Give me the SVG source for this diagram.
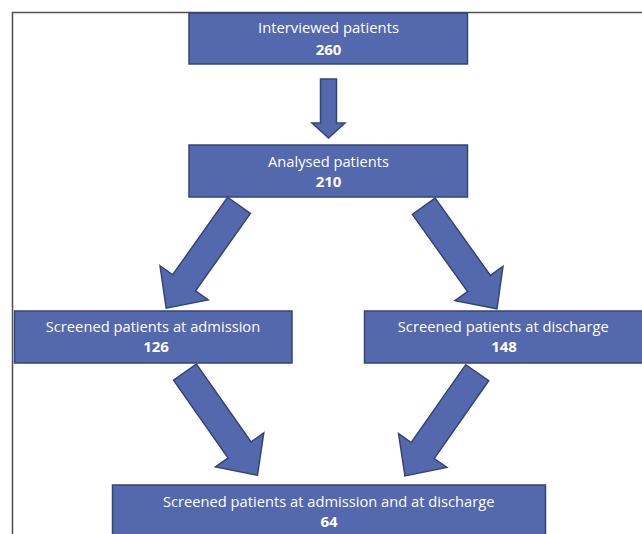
<svg xmlns="http://www.w3.org/2000/svg" width="642" height="534" viewBox="0 0 642 534">
<style>
.box{fill:#5468ad;stroke:#34447a;stroke-width:1.5}
.arr{fill:#5468ad;stroke:#34447a;stroke-width:1.5;stroke-linejoin:miter}
.t{font-family:"Open Sans","Liberation Sans",sans-serif;font-size:14.5px;fill:#ffffff;text-anchor:middle}
.n{font-family:"Open Sans","Liberation Sans",sans-serif;font-size:15px;font-weight:bold;fill:#ffffff;text-anchor:middle}
.frame{fill:none;stroke:#505050;stroke-width:1.5}
</style>
<defs>
<polygon id="blk" points="0,-14 95,-14 95,-29.5 126,0 95,29.5 95,14 0,14"/>
</defs>
<rect width="642" height="534" fill="#ffffff"/>
<path class="frame" d="M12.5,540 V12.5 H650"/>
<g id="connectors">
<polygon class="arr" points="320.5,79 336.5,79 336.5,123 345,123 328.5,138 312,123 320.5,123"/>
<use href="#blk" class="arr" transform="translate(239,205.3) rotate(125.3)"/>
<use href="#blk" class="arr" transform="translate(423.8,206.2) rotate(54.5)"/>
<use href="#blk" class="arr" transform="translate(185,372.2) rotate(54.9)"/>
<use href="#blk" class="arr" transform="translate(477.2,372.7) rotate(125)"/>
</g>
<g id="interviewed">
<rect class="box" x="189" y="13" width="278.5" height="51"/>
<text class="t" x="328.5" y="33" textLength="141" lengthAdjust="spacingAndGlyphs">Interviewed patients</text>
<text class="n" x="328.5" y="55">260</text>
</g>
<g id="analysed">
<rect class="box" x="189" y="145" width="278.5" height="52"/>
<text class="t" x="328.5" y="167" textLength="121" lengthAdjust="spacingAndGlyphs">Analysed patients</text>
<text class="n" x="328.5" y="187">210</text>
</g>
<g id="admission">
<rect class="box" x="14.5" y="311" width="277.5" height="52"/>
<text class="t" x="153" y="332" textLength="214.5" lengthAdjust="spacingAndGlyphs">Screened patients at admission</text>
<text class="n" x="156" y="352">126</text>
</g>
<g id="discharge">
<rect class="box" x="364.5" y="311" width="290" height="52"/>
<text class="t" x="503.3" y="332" textLength="211" lengthAdjust="spacingAndGlyphs">Screened patients at discharge</text>
<text class="n" x="504" y="352">148</text>
</g>
<g id="both">
<rect class="box" x="112.5" y="485" width="433" height="60"/>
<text class="t" x="328.7" y="507" textLength="331.5" lengthAdjust="spacingAndGlyphs">Screened patients at admission and at discharge</text>
<text class="n" x="329" y="527">64</text>
</g>
</svg>
